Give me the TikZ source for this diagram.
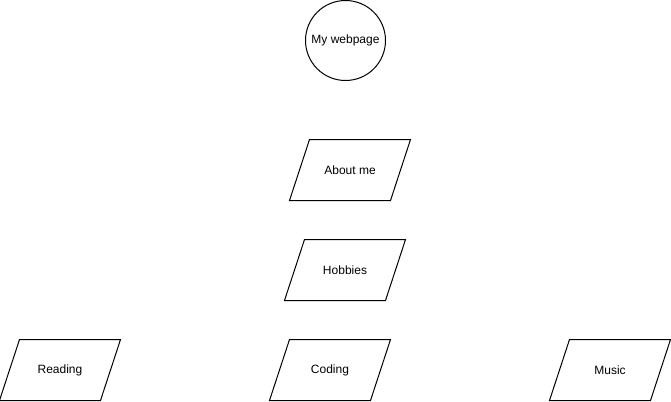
\documentclass[tikz,border=0pt]{standalone}
\usepackage{fontspec}
\setmainfont{Liberation Sans}
\usetikzlibrary{shapes.geometric}

\begin{document}
\begin{tikzpicture}[x=1pt, y=-1pt, line width=1pt,
  every node/.style={font=\fontsize{12}{14}\selectfont},
  page/.style={draw, circle, minimum size=80pt, inner sep=0pt},
  iobox/.style={rectangle, minimum width=100pt, minimum height=60pt, inner sep=0pt}]

  \useasboundingbox (0,0) rectangle (671,401);

  % --- Start node ---
  \node[page] (web) at (345.5,40.5) {My webpage};

  % --- Input/output boxes ---
  \node[iobox] (about) at (350,170) {About me};
  \node[iobox] (hobbies) at (345,270) {Hobbies};
  \node[iobox] (reading) at (60,370) {Reading};
  \node[iobox] (coding) at (330,370) {Coding};
  \node[iobox] (music) at (610,370) {Music};

  % --- Slanted outlines ---
  \foreach \n in {about,hobbies,reading,coding,music}
    \draw ([xshift=10pt]\n.north west) -- ([xshift=10pt]\n.north east)
      -- ([xshift=-10pt]\n.south east) -- ([xshift=-10pt]\n.south west) -- cycle;

\end{tikzpicture}
\end{document}
